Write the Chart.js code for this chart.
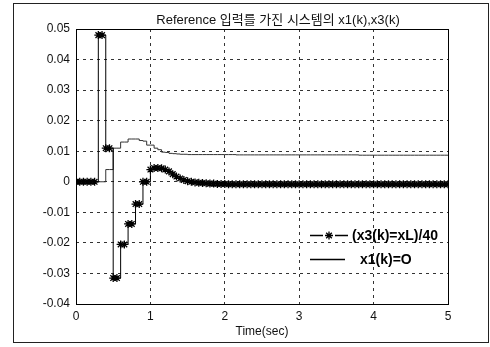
<!DOCTYPE html>
<html>
<head>
<meta charset="utf-8">
<script src="https://cdn.jsdelivr.net/npm/chart.js@4.4.0/dist/chart.umd.min.js"></script>
<style>
  html, body { margin: 0; padding: 0; background: #fff; }
  #wrap { position: relative; width: 490px; height: 347px; }
  #frame { position: absolute; left: 13px; top: 3px; width: 474px; height: 338px; border: 1px solid #222; }
  canvas { position: absolute; left: 0; top: 0; }
</style>
</head>
<body>
<div id="wrap"><div id="frame"></div><canvas id="c" width="490" height="347"></canvas></div>
<script>
// 그래프 텍스트
const titleText = 'Reference 입력를 가진 시스템의 x1(k),x3(k)';
const xLabel = 'Time(sec)';
const seriesLabels = ['(x3(k)=xL)/40', 'x1(k)=O'];

// 눈금
const xTicks = [0, 1, 2, 3, 4, 5];
const yTicks = [-0.04, -0.03, -0.02, -0.01, 0, 0.01, 0.02, 0.03, 0.04, 0.05];

// 샘플 시간 (sec)
const timeSec = [
  0, 0.05, 0.1, 0.15, 0.2, 0.25, 0.3, 0.35, 0.4, 0.45,
  0.5, 0.55, 0.6, 0.65, 0.7, 0.75, 0.8, 0.85, 0.9, 0.95,
  1, 1.05, 1.1, 1.15, 1.2, 1.25, 1.3, 1.35, 1.4, 1.45,
  1.5, 1.55, 1.6, 1.65, 1.7, 1.75, 1.8, 1.85, 1.9, 1.95,
  2, 2.05, 2.1, 2.15, 2.2, 2.25, 2.3, 2.35, 2.4, 2.45,
  2.5, 2.55, 2.6, 2.65, 2.7, 2.75, 2.8, 2.85, 2.9, 2.95,
  3, 3.05, 3.1, 3.15, 3.2, 3.25, 3.3, 3.35, 3.4, 3.45,
  3.5, 3.55, 3.6, 3.65, 3.7, 3.75, 3.8, 3.85, 3.9, 3.95,
  4, 4.05, 4.1, 4.15, 4.2, 4.25, 4.3, 4.35, 4.4, 4.45,
  4.5, 4.55, 4.6, 4.65, 4.7, 4.75, 4.8, 4.85, 4.9, 4.95,
  5
];

// (x3(k)=xL)/40
const x3Scaled = [
  0, 0, 0, 0, 0, 0, 0.048, 0.048, 0.011, 0.011,
  -0.0315, -0.0315, -0.0205, -0.0205, -0.0138, -0.0138, -0.0073, -0.0073, 0, 0,
  0.004, 0.0045, 0.0045, 0.0044, 0.004, 0.0034, 0.0025, 0.0017, 0.0011, 0.0006,
  0.0002, 0, -0.0002, -0.0003, -0.0004, -0.0005, -0.0006, -0.0006, -0.0007, -0.0007,
  -0.0007, -0.0008, -0.0008, -0.0008, -0.0008, -0.0008, -0.0008, -0.0008, -0.0008, -0.0008,
  -0.0008, -0.0008, -0.0008, -0.0008, -0.0008, -0.0008, -0.0008, -0.0008, -0.0008, -0.0008,
  -0.0008, -0.0008, -0.0008, -0.0008, -0.0008, -0.0008, -0.0008, -0.0008, -0.0008, -0.0008,
  -0.0008, -0.0008, -0.0008, -0.0008, -0.0008, -0.0008, -0.0008, -0.0008, -0.0008, -0.0008,
  -0.0008, -0.0008, -0.0008, -0.0008, -0.0008, -0.0008, -0.0008, -0.0008, -0.0008, -0.0008,
  -0.0008, -0.0008, -0.0008, -0.0008, -0.0008, -0.0008, -0.0008, -0.0008, -0.0008, -0.0008,
  -0.0008
];

// x1(k)
const x1Vals = [
  0, 0, 0, 0, 0, 0, 0, 0, 0.004, 0.004,
  0.011, 0.011, 0.013, 0.013, 0.014, 0.014, 0.014, 0.0135, 0.0133, 0.012,
  0.012, 0.011, 0.0105, 0.0097, 0.0096, 0.0093, 0.0092, 0.0091, 0.009, 0.009,
  0.0089, 0.0089, 0.0089, 0.0089, 0.0089, 0.0089, 0.0089, 0.0089, 0.0089, 0.0089,
  0.0089, 0.0089, 0.0089, 0.0088, 0.0088, 0.0088, 0.0088, 0.0088, 0.0088, 0.0088,
  0.0088, 0.0088, 0.0088, 0.0088, 0.0088, 0.0088, 0.0088, 0.0088, 0.0088, 0.0088,
  0.0088, 0.0088, 0.0088, 0.0088, 0.0088, 0.0088, 0.0088, 0.0088, 0.0088, 0.0088,
  0.0088, 0.0088, 0.0088, 0.0088, 0.0088, 0.0088, 0.0087, 0.0087, 0.0087, 0.0087,
  0.0087, 0.0087, 0.0087, 0.0087, 0.0087, 0.0087, 0.0087, 0.0087, 0.0087, 0.0087,
  0.0087, 0.0087, 0.0087, 0.0087, 0.0087, 0.0087, 0.0087, 0.0087, 0.0087, 0.0087,
  0.0087
];

const FONT = "'Liberation Sans', Arial, 'Noto Sans CJK KR', sans-serif";
Chart.defaults.font.family = FONT;
Chart.defaults.font.size = 12;
Chart.defaults.color = '#111';

// 축 박스, 제목, 범례를 직접 그림
const decor = {
  id: 'decor',
  afterDraw(chart) {
    const { ctx, chartArea: a } = chart;
    ctx.save();
    ctx.strokeStyle = '#000';
    ctx.lineWidth = 1;
    ctx.setLineDash([]);
    ctx.strokeRect(Math.round(a.left) + 0.5, Math.round(a.top) + 0.5,
      Math.round(a.right - a.left), Math.round(a.bottom - a.top));

    ctx.fillStyle = '#111';
    ctx.font = "13px 'Liberation Sans', 'Noto Sans CJK KR', sans-serif";
    ctx.textAlign = 'center';
    ctx.textBaseline = 'middle';
    ctx.fillText(titleText, 278, 20);

    // 범례 (축 영역 안, 오른쪽 잘림)
    ctx.beginPath();
    ctx.rect(a.left, a.top, a.right - a.left, a.bottom - a.top);
    ctx.clip();
    ctx.font = 'bold 14px ' + FONT;
    ctx.textAlign = 'left';

    const y1 = 235, y2 = 259;
    ctx.lineWidth = 1.3;
    ctx.beginPath();
    ctx.moveTo(310, y1 + 0.5); ctx.lineTo(323, y1 + 0.5);
    ctx.moveTo(335, y1 + 0.5); ctx.lineTo(348, y1 + 0.5);
    ctx.moveTo(310, y2 + 0.5); ctx.lineTo(345, y2 + 0.5);
    ctx.stroke();
    Chart.helpers.drawPoint(ctx, { pointStyle: 'star', radius: 4, borderWidth: 1.3, rotation: 0 }, 329, y1 + 0.5);
    ctx.fillStyle = '#000';
    ctx.fillText(seriesLabels[0], 352, y1 + 1);
    ctx.fillText(seriesLabels[1], 360, y2 + 1);
    ctx.restore();
  }
};

const ctx = document.getElementById('c').getContext('2d');
new Chart(ctx, {
  type: 'line',
  data: {
    datasets: [
      {
        label: seriesLabels[0],
        data: timeSec.map((t, i) => ({ x: t, y: x3Scaled[i] })),
        stepped: 'before',
        borderColor: '#000',
        borderWidth: 1,
        pointStyle: 'star',
        pointRadius: 4,
        pointBorderColor: '#000',
        pointBackgroundColor: '#000',
        pointBorderWidth: 1.3,
        fill: false
      },
      {
        label: seriesLabels[1],
        data: timeSec.map((t, i) => ({ x: t, y: x1Vals[i] })),
        stepped: 'before',
        borderColor: '#333',
        borderWidth: 1,
        pointRadius: 0,
        fill: false
      }
    ]
  },
  options: {
    responsive: false,
    animation: false,
    layout: { padding: { top: 29, right: 42, bottom: 0, left: 0 } },
    plugins: {
      legend: { display: false },
      tooltip: { enabled: false },
      title: { display: false }
    },
    scales: {
      x: {
        type: 'linear',
        min: 0, max: 5,
        afterBuildTicks: s => { s.ticks = xTicks.map(v => ({ value: v })); },
        afterFit: s => { s.height = 43; },
        grid: { color: '#333', lineWidth: 1, drawTicks: false },
        border: { display: false, dash: [3, 4] },
        ticks: { padding: 5, maxRotation: 0, font: { size: 12 } },
        title: { display: true, text: xLabel, font: { size: 12 }, padding: { top: 0, bottom: 8 } }
      },
      y: {
        type: 'linear',
        min: -0.04, max: 0.05,
        afterBuildTicks: s => { s.ticks = yTicks.map(v => ({ value: v })); },
        afterFit: s => { s.width = 76; },
        grid: { color: '#333', lineWidth: 1, drawTicks: false },
        border: { display: false, dash: [3, 4] },
        ticks: {
          padding: 6,
          font: { size: 12 },
          callback: v => (v === 0 ? '0' : v.toFixed(2))
        }
      }
    }
  },
  plugins: [decor]
});
</script>
</body>
</html>
